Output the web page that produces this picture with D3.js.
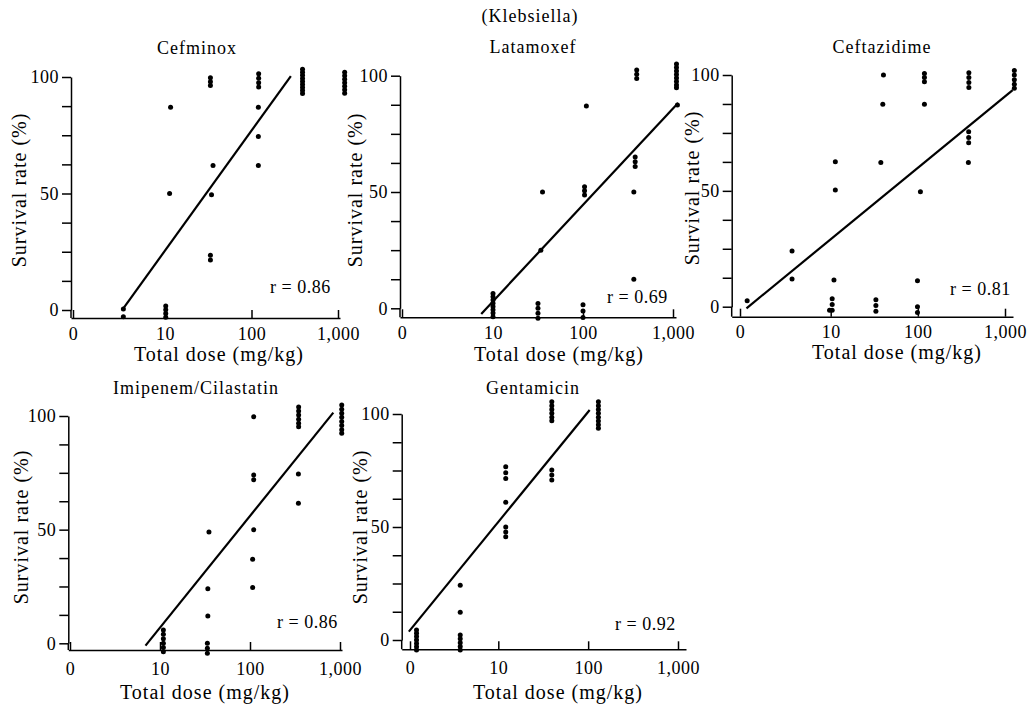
<!DOCTYPE html>
<html>
<head>
<meta charset="utf-8">
<script src="https://cdn.jsdelivr.net/npm/d3@7"></script>
<style>
  body { margin: 0; background: #fff; }
  svg text { font-family: "Liberation Serif", "Times New Roman", serif; fill: #000; }
  .tick text { font-size: 18px; letter-spacing: 0.5px; }
  .tick line, .domain { stroke: #000; stroke-width: 1.5; }
  .lbl { font-size: 20px; letter-spacing: 1px; }
  .rlbl { font-size: 18px; letter-spacing: 0.5px; }
</style>
</head>
<body>
<script>
// chart data
var drugs = ["Cefminox", "Latamoxef", "Ceftazidime", "Imipenem/Cilastatin", "Gentamicin"];
var rValues = ["0.86", "0.69", "0.81", "0.86", "0.92"];
var doseTicks = [10, 100, 1000];
var doseLabels = ["10", "100", "1,000"];
var survTicks = [0, 12.5, 25, 37.5, 50, 62.5, 75, 87.5, 100];

// [dose mg/kg, survival %]
var cefminoxPts = [
  [3.3, 0.4], [3.3, -2.9],
  [10.2, 1.7], [10.2, 0.1], [10.2, -1.5], [10.2, -3.1],
  [11.6, 87], [11.3, 50],
  [33.5, 99.7], [33.5, 98], [33.5, 96.4], [35.9, 62], [34.5, 49.5], [33.5, 23.5], [33.5, 21.5],
  [121, 101.4], [121, 99.5], [121, 97.5], [121, 95.7], [120, 87], [120, 74.5], [120, 62],
  [389, 103.3], [389, 102], [389, 100.7], [389, 99.4], [389, 98.1], [389, 96.8], [389, 95.5], [389, 94.2], [389, 92.9],
  [1194, 102], [1194, 100.5], [1194, 99], [1194, 97.5], [1194, 96], [1194, 94.5], [1194, 93]
];
var cefminoxFit = [[3.3, 0.7], [285, 100.4]];

var latamoxefPts = [
  [10, 6.4], [10, 5], [10, 3.6], [10, 2.2], [10, 0.8], [10, -0.6], [10, -2], [10, -3.6],
  [31.6, 2.1], [31.6, 0], [31.6, -2.1], [31.6, -4.3],
  [35.5, 50], [34, 25],
  [100, 1.5], [100, -1.2], [100, -4],
  [109, 87], [104, 52.3], [104, 50.5], [104, 48.7],
  [367, 12.5], [367, 50], [380, 65], [380, 63], [380, 61],
  [395, 102.4], [395, 100.6], [395, 98.8],
  [1093, 105], [1093, 103.5], [1093, 102], [1093, 100.5], [1093, 99], [1093, 97.5], [1093, 96], [1093, 94.8],
  [1120, 87.4]
];
var latamoxefFit = [[7.4, -2.4], [1140, 88.3]];

var ceftazidimePts = [
  [1.1, 2.6], [3.6, 24], [3.6, 12],
  [9.7, -1.5], [10.4, 3.4], [10.4, 1], [10.4, -1.5],
  [11.3, 62.6], [11.3, 50.4], [10.9, 11.5],
  [33, 3], [33, 0.5], [33, -2],
  [40.3, 100], [39.6, 87.4], [37.6, 62.2],
  [99, 11.2], [99, 0], [99, -2.5], [107, 49.6],
  [119, 100.7], [119, 98.9], [119, 97.1], [119, 87.4],
  [385, 101], [385, 98.9], [385, 96.8], [385, 94.6],
  [383, 75.5], [383, 73], [383, 70.8], [380, 62.2],
  [1280, 101.9], [1280, 100], [1280, 98], [1280, 96], [1280, 94.3]
];
var ceftazidimeFit = [[1.08, -0.7], [1225, 93.5]];

var imipenemPts = [
  [10.9, 5.9], [10.9, 4], [10.9, 2], [10.9, 0], [10.9, -1.8], [10.9, -3.7],
  [33.6, 0], [33.6, -2.2], [33.6, -4.4],
  [35, 49], [34, 24], [34, 12],
  [110, 99.7], [110, 74], [110, 72], [110, 50], [107, 37], [107, 24.5],
  [347, 104], [347, 102.2], [347, 100.4], [347, 98.6], [347, 96.8], [347, 95.3],
  [345, 74.5], [345, 61.6],
  [1045, 104.8], [1045, 103], [1045, 101.2], [1045, 99.4], [1045, 97.6], [1045, 95.8], [1045, 94], [1045, 92.4]
];
var imipenemFit = [[6.9, -1], [843, 101.5]];

var gentamicinPts = [
  [1.23, 4.4], [1.23, 3], [1.23, 1.5], [1.23, 0], [1.23, -1.5], [1.23, -3], [1.23, -4.4],
  [3.77, 2.2], [3.77, 0.5], [3.77, -1.2], [3.77, -2.9], [3.77, -4.4],
  [3.77, 12.3], [3.77, 24.2],
  [12.1, 76.7], [12.1, 74], [12.1, 71.5], [12.1, 61], [12.1, 50], [12.1, 47.8], [12.1, 45.7],
  [39.4, 105.4], [39.4, 103.7], [39.4, 102], [39.4, 100.3], [39.4, 98.6], [39.4, 97],
  [39.4, 75.2], [39.4, 73], [39.4, 70.8],
  [130, 105.4], [130, 103.7], [130, 102], [130, 100.3], [130, 98.6], [130, 96.9], [130, 95.2], [130, 93.7]
];
var gentamicinFit = [[1.01, 3.7], [104, 101.8]];

var allPts = [cefminoxPts, latamoxefPts, ceftazidimePts, imipenemPts, gentamicinPts];
var allFits = [cefminoxFit, latamoxefFit, ceftazidimeFit, imipenemFit, gentamicinFit];

// panel placement (pixels)
var panels = [
  {axisX: 71, y100: 77, y0: 310, baseY: 318, zeroX: 73, x10: 165, x1000: 338, xRight: 340,
   title: [197, 54], xl: [219, 361], yl: [26, 190], r: [270, 293]},
  {axisX: 400, y100: 75.7, y0: 308.3, baseY: 317.3, zeroX: 402, x10: 493, x1000: 673, xRight: 676,
   title: [533, 53], xl: [559, 361], yl: [362, 190], r: [607, 303]},
  {axisX: 731.7, y100: 75, y0: 306.7, baseY: 316.7, zeroX: 740, x10: 830.7, x1000: 1005, xRight: 1013,
   title: [882, 53], xl: [897, 359], yl: [699, 188], r: [950, 295]},
  {axisX: 68.3, y100: 416, y0: 643.3, baseY: 650, zeroX: 70, x10: 160, x1000: 340, xRight: 342,
   title: [196, 394], xl: [205, 699], yl: [28, 527], r: [277, 628]},
  {axisX: 401.7, y100: 414, y0: 640, baseY: 649.3, zeroX: 410, x10: 498.3, x1000: 678, xRight: 686,
   title: [533, 394], xl: [558, 699], yl: [367, 527], r: [615, 630]}
];

var svg = d3.select("body").append("svg")
    .attr("width", 1028)
    .attr("height", 707);

svg.append("text")
    .attr("class", "lbl")
    .attr("x", 530).attr("y", 22)
    .attr("text-anchor", "middle")
    .style("font-size", "18px")
    .text("(Klebsiella)");

panels.forEach(function(p, i){
    var g = svg.append("g");

    var x = d3.scaleLog().domain([10, 1000]).range([p.x10, p.x1000]);
    var y = d3.scaleLinear().domain([0, 100]).range([p.y0, p.y100]);

    // x axis spans from the y axis to its right end, "0" sits at the break
    var xa = x.copy().domain([x.invert(p.axisX), x.invert(p.xRight)]).range([p.axisX, p.xRight]);
    var zeroVal = x.invert(p.zeroX);
    var xAxis = d3.axisBottom(xa)
        .tickValues([zeroVal].concat(doseTicks))
        .tickFormat(function(d, k){ return k === 0 ? "0" : doseLabels[k - 1]; })
        .tickSize(-8)
        .tickPadding(i < 3 ? 9 : 12)
        .tickSizeOuter(0);
    g.append("g")
        .attr("transform", "translate(0," + p.baseY + ")")
        .call(xAxis)
        .attr("font-family", null)
        .attr("font-size", null);

    var yAxis = d3.axisLeft(y)
        .tickValues(survTicks)
        .tickFormat(function(d){ return d % 50 === 0 ? d : ""; })
        .tickSize(9)
        .tickPadding(3)
        .tickSizeOuter(0);
    g.append("g")
        .attr("transform", "translate(" + p.axisX + ",0)")
        .call(yAxis)
        .attr("font-family", null)
        .attr("font-size", null);

    // join y axis to the lower x axis
    g.append("line")
        .attr("x1", p.axisX).attr("x2", p.axisX)
        .attr("y1", p.y0).attr("y2", p.baseY)
        .attr("stroke", "#000").attr("stroke-width", 1.5);

    // fitted line
    g.append("path")
        .datum(allFits[i])
        .attr("d", d3.line()
            .x(function(d){ return x(d[0]); })
            .y(function(d){ return y(d[1]); }))
        .attr("fill", "none")
        .attr("stroke", "#000")
        .attr("stroke-width", 2.2);

    // points
    g.selectAll(".dot")
        .data(allPts[i])
        .enter()
        .append("circle")
        .attr("class", "dot")
        .attr("cx", function(d){ return x(d[0]); })
        .attr("cy", function(d){ return y(d[1]); })
        .attr("r", 2.5)
        .attr("fill", "#000");

    g.append("text")
        .attr("class", "lbl")
        .attr("x", p.title[0]).attr("y", p.title[1])
        .attr("text-anchor", "middle")
        .style("font-size", "18px")
        .text(drugs[i]);

    g.append("text")
        .attr("class", "lbl")
        .attr("x", p.xl[0]).attr("y", p.xl[1])
        .attr("text-anchor", "middle")
        .text("Total dose (mg/kg)");

    g.append("text")
        .attr("class", "lbl")
        .attr("transform", "translate(" + p.yl[0] + "," + p.yl[1] + ") rotate(-90)")
        .attr("text-anchor", "middle")
        .text("Survival rate (%)");

    g.append("text")
        .attr("class", "rlbl")
        .attr("x", p.r[0]).attr("y", p.r[1])
        .text("r = " + rValues[i]);
});
</script>
</body>
</html>
